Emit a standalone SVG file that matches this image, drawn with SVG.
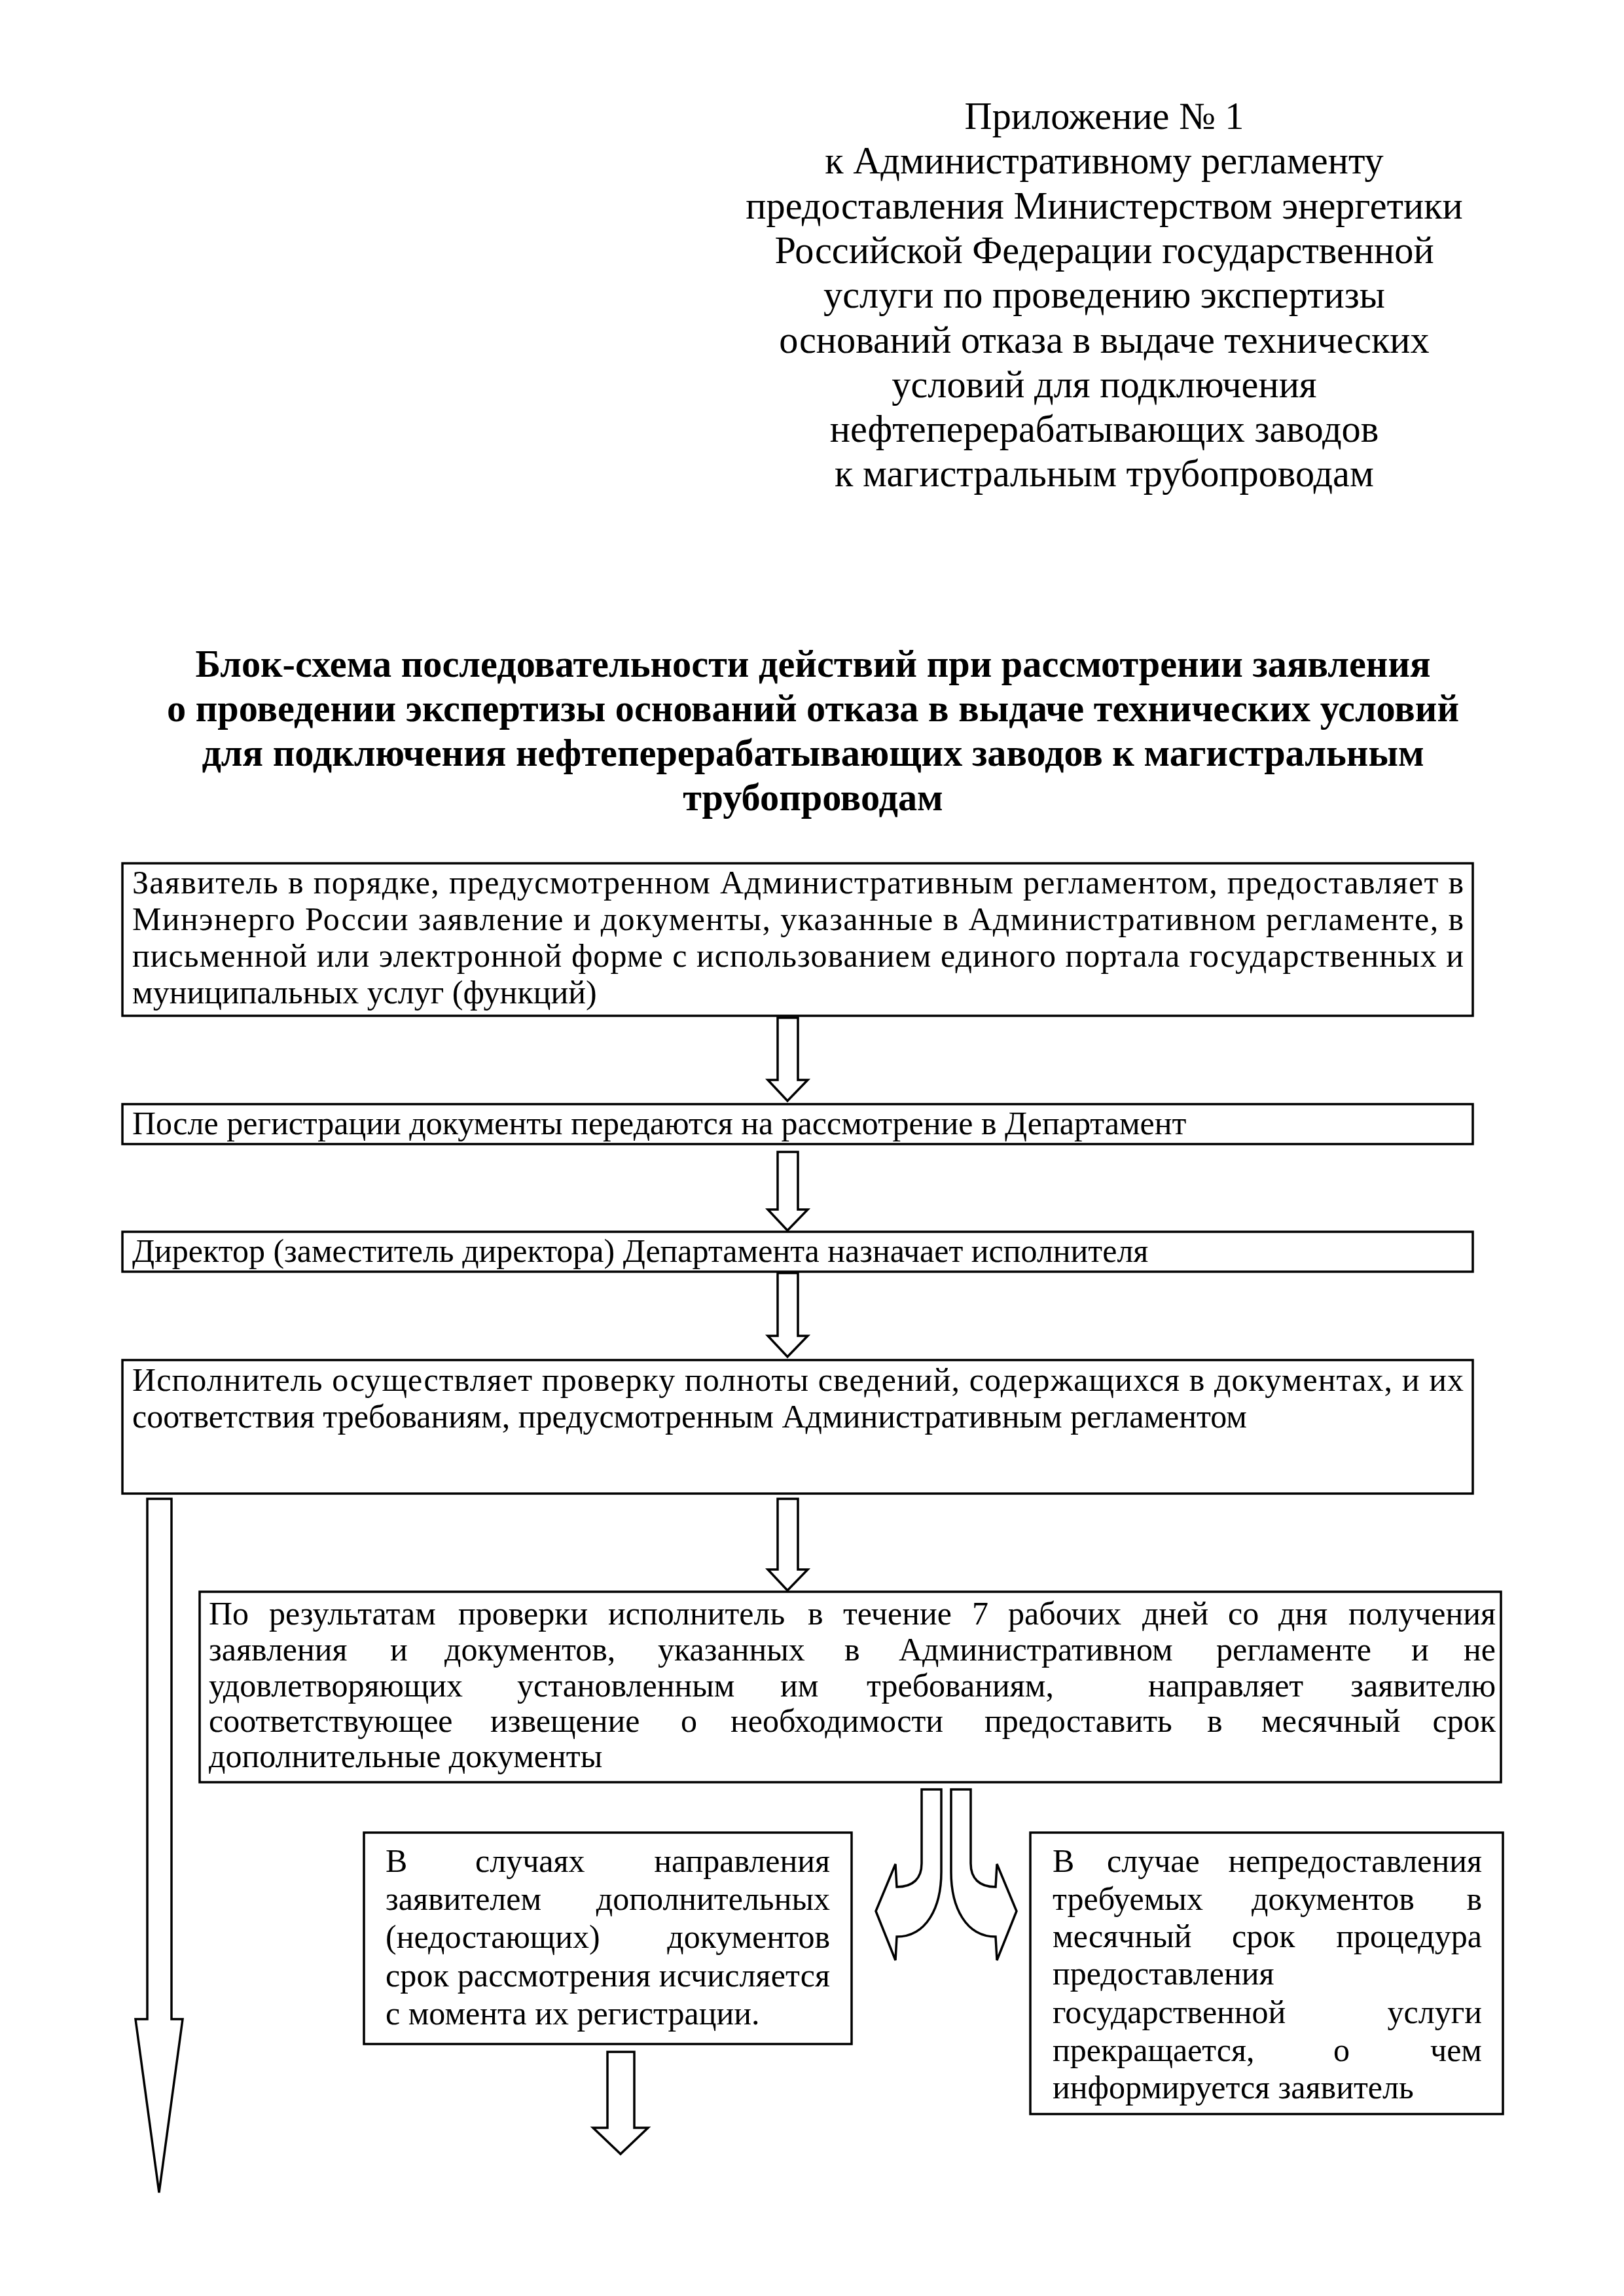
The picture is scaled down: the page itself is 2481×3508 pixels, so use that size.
<svg xmlns="http://www.w3.org/2000/svg" width="2481" height="3508" viewBox="0 0 2481 3508">
<style>
.t{font-family:"Liberation Serif","Times New Roman",serif;font-size:50px;fill:#000}
.h{font-size:58.3px;text-anchor:middle}
.b{font-weight:bold}
.e{text-anchor:end}
.box{fill:#fff;stroke:#000;stroke-width:3.5}
.arr{fill:#fff;stroke:#000;stroke-width:3.5;stroke-linejoin:miter}
</style>
<rect width="2481" height="3508" fill="#fff"/>
<g id="header" class="t h">
<text x="1687" y="197">Приложение № 1</text>
<text x="1687" y="265">к Административному регламенту</text>
<text x="1687" y="334">предоставления Министерством энергетики</text>
<text x="1687" y="402">Российской Федерации государственной</text>
<text x="1687" y="470">услуги по проведению экспертизы</text>
<text x="1687" y="539">оснований отказа в выдаче технических</text>
<text x="1687" y="607">условий для подключения</text>
<text x="1687" y="675">нефтеперерабатывающих заводов</text>
<text x="1687" y="743">к магистральным трубопроводам</text>
</g>
<g id="title" class="t h b">
<text x="1242" y="1034">Блок-схема последовательности действий при рассмотрении заявления</text>
<text x="1242" y="1102">о проведении экспертизы оснований отказа в выдаче технических условий</text>
<text x="1242" y="1170">для подключения нефтеперерабатывающих заводов к магистральным</text>
<text x="1242" y="1238">трубопроводам</text>
</g>
<g id="connectors">
<path class="arr" d="M1188,1555 H1219 V1650 H1234 L1203,1682 L1173,1650 H1188 Z"/>
<path class="arr" d="M1188,1760 H1219 V1848 H1234 L1203,1880 L1173,1848 H1188 Z"/>
<path class="arr" d="M1188,1945 H1219 V2041 H1234 L1203,2073 L1173,2041 H1188 Z"/>
<path class="arr" d="M1188,2290 H1219 V2398 H1234 L1203,2430 L1173,2398 H1188 Z"/>
<path class="arr" d="M225,2290 H262 V3085 H279 L243,3350 L207,3085 H225 Z"/>
<path class="arr" d="M928,3135 H969 V3251 H990 L948,3291 L906,3251 H928 Z"/>
<path class="arr" d="M1408,2734 L1438,2734 L1438,2860 C1438,2915 1415,2959 1370,2959 L1368,2995 L1338,2920 L1368,2848 L1370,2883 C1395,2883 1408,2870 1408,2847 Z"/>
<path class="arr" d="M1483,2734 L1453,2734 L1453,2860 C1453,2915 1476,2959 1521,2959 L1523,2995 L1553,2920 L1523,2848 L1521,2883 C1496,2883 1483,2870 1483,2847 Z"/>
</g>
<g id="node1">
<rect class="box" x="187" y="1319" width="2063" height="233"/>
<text class="t" x="202" y="1365" textLength="2034" lengthAdjust="spacing">Заявитель в порядке, предусмотренном Административным регламентом, предоставляет в</text>
<text class="t" x="202" y="1421" textLength="2034" lengthAdjust="spacing">Минэнерго России заявление и документы, указанные в Административном регламенте, в</text>
<text class="t" x="202" y="1477" textLength="2034" lengthAdjust="spacing">письменной или электронной форме с использованием единого портала государственных и</text>
<text class="t" x="202" y="1533">муниципальных услуг (функций)</text>
</g>
<g id="node2">
<rect class="box" x="187" y="1687" width="2063" height="61"/>
<text class="t" x="202" y="1733">После регистрации документы передаются на рассмотрение в Департамент</text>
</g>
<g id="node3">
<rect class="box" x="187" y="1882" width="2063" height="61"/>
<text class="t" x="202" y="1928">Директор (заместитель директора) Департамента назначает исполнителя</text>
</g>
<g id="node4">
<rect class="box" x="187" y="2078" width="2063" height="204"/>
<text class="t" x="202" y="2125" textLength="2034" lengthAdjust="spacing">Исполнитель осуществляет проверку полноты сведений, содержащихся в документах, и их</text>
<text class="t" x="202" y="2181">соответствия требованиям, предусмотренным Административным регламентом</text>
</g>
<g id="node5">
<rect class="box" x="305" y="2432" width="1988" height="291"/>
<text class="t" y="2482"><tspan x="319">По</tspan> <tspan x="411">результатам</tspan> <tspan x="700">проверки</tspan> <tspan x="929">исполнитель</tspan> <tspan x="1234">в</tspan> <tspan x="1288">течение</tspan> <tspan x="1485">7</tspan> <tspan x="1540">рабочих</tspan> <tspan x="1745">дней</tspan> <tspan x="1876">со</tspan> <tspan x="1953">дня</tspan> <tspan class="e" x="2285">получения</tspan></text>
<text class="t" y="2537"><tspan x="319">заявления</tspan> <tspan x="596">и</tspan> <tspan x="679">документов,</tspan> <tspan x="1005">указанных</tspan> <tspan x="1290">в</tspan> <tspan x="1373">Административном</tspan> <tspan x="1858">регламенте</tspan> <tspan x="2156">и</tspan> <tspan class="e" x="2285">не</tspan></text>
<text class="t" y="2592"><tspan x="319">удовлетворяющих</tspan> <tspan x="790">установленным</tspan> <tspan x="1192">им</tspan> <tspan x="1324">требованиям,</tspan>  <tspan x="1754">направляет</tspan> <tspan class="e" x="2285">заявителю</tspan></text>
<text class="t" y="2646"><tspan x="319">соответствующее</tspan> <tspan x="749">извещение</tspan> <tspan x="1040">о</tspan> <tspan x="1116">необходимости</tspan> <tspan x="1504">предоставить</tspan> <tspan x="1844">в</tspan> <tspan x="1927">месячный</tspan> <tspan class="e" x="2285">срок</tspan></text>
<text class="t" x="319" y="2700">дополнительные документы</text>
</g>
<g id="node6">
<rect class="box" x="556" y="2800" width="745" height="323"/>
<text class="t" y="2860"><tspan x="589">В</tspan> <tspan x="726">случаях</tspan> <tspan class="e" x="1268">направления</tspan></text>
<text class="t" y="2918"><tspan x="589">заявителем</tspan> <tspan class="e" x="1268">дополнительных</tspan></text>
<text class="t" y="2976"><tspan x="589">(недостающих)</tspan> <tspan class="e" x="1268">документов</tspan></text>
<text class="t" x="589" y="3035" textLength="679" lengthAdjust="spacing">срок рассмотрения исчисляется</text>
<text class="t" x="589" y="3093">с момента их регистрации.</text>
</g>
<g id="node7">
<rect class="box" x="1574" y="2800" width="722" height="430"/>
<text class="t" y="2860"><tspan x="1608">В</tspan> <tspan x="1691">случае</tspan> <tspan class="e" x="2264">непредоставления</tspan></text>
<text class="t" y="2918"><tspan x="1608">требуемых</tspan> <tspan x="1912">документов</tspan> <tspan class="e" x="2264">в</tspan></text>
<text class="t" y="2975"><tspan x="1608">месячный</tspan> <tspan x="1882">срок</tspan> <tspan class="e" x="2264">процедура</tspan></text>
<text class="t" x="1608" y="3032">предоставления</text>
<text class="t" y="3091"><tspan x="1608">государственной</tspan> <tspan class="e" x="2264">услуги</tspan></text>
<text class="t" y="3149"><tspan x="1608">прекращается,</tspan> <tspan x="2037">о</tspan> <tspan class="e" x="2264">чем</tspan></text>
<text class="t" x="1608" y="3206">информируется заявитель</text>
</g>
</svg>
